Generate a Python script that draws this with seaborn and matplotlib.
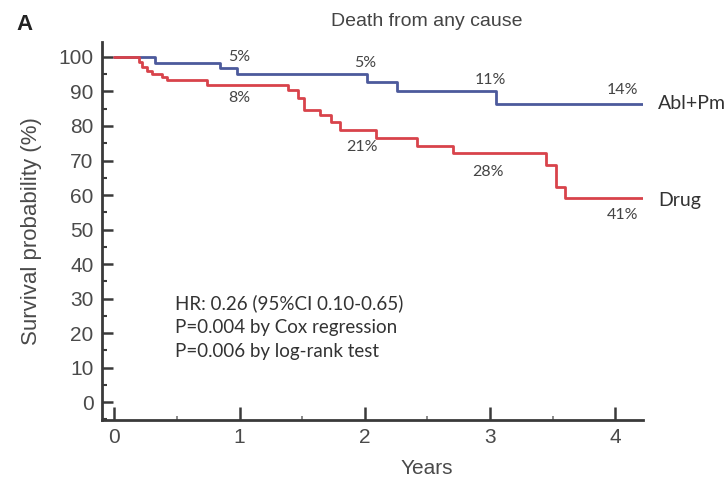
import numpy as np
import pandas as pd
import matplotlib
matplotlib.use("Agg")
import matplotlib.pyplot as plt
from matplotlib.ticker import MultipleLocator
import seaborn as sns

# Kaplan-Meier step curves (years, survival %)
abl_time = [0, 0.32, 0.84, 0.98, 2.02, 2.26, 3.05, 4.22]
abl_surv = [100, 98.2, 96.8, 95.1, 92.7, 90.0, 86.4, 86.4]

drug_time = [0, 0.20, 0.22, 0.26, 0.30, 0.38, 0.42, 0.74, 1.39, 1.47, 1.51,
             1.64, 1.73, 1.80, 2.09, 2.42, 2.70, 3.45, 3.53, 3.60, 4.22]
drug_surv = [100, 98.6, 97.2, 95.8, 95.0, 94.3, 93.3, 91.9, 90.4, 88.1, 84.6,
             83.2, 81.3, 78.8, 76.4, 74.2, 72.1, 68.7, 62.4, 59.0, 59.0]

groups = ["Abl+Pm", "Drug"]
colors = {"Abl+Pm": "#4c5a9c", "Drug": "#d8434b"}

# Cumulative mortality annotations at yearly marks
abl_pct_x = [1, 2, 3, 4.06]
abl_pct_y = [100, 98.3, 93.3, 90.4]
abl_pct = ["5%", "5%", "11%", "14%"]
drug_pct_x = [1, 1.98, 2.98, 4.06]
drug_pct_y = [88, 73.9, 66.7, 54.2]
drug_pct = ["8%", "21%", "28%", "41%"]

stats_lines = ["HR: 0.26 (95%CI 0.10-0.65)",
               "P=0.004 by Cox regression",
               "P=0.006 by log-rank test"]

df = pd.concat([
    pd.DataFrame({"Years": abl_time, "Survival": abl_surv, "Group": groups[0]}),
    pd.DataFrame({"Years": drug_time, "Survival": drug_surv, "Group": groups[1]}),
])

sns.set_style("white")
plt.rcParams["font.family"] = ["Liberation Sans", "DejaVu Sans"]

fig = plt.figure(figsize=(7.28, 4.84), dpi=100)
ax = fig.add_axes([0.140, 0.132, 0.743, 0.781])

sns.lineplot(data=df, x="Years", y="Survival", hue="Group", palette=colors,
             drawstyle="steps-post", linewidth=2.0, legend=False, ax=ax,
             estimator=None, sort=False)

ax.set_xlim(-0.1, 4.22)
ax.set_ylim(-5.2, 104.3)
ax.xaxis.set_major_locator(MultipleLocator(1))
ax.xaxis.set_minor_locator(MultipleLocator(0.5))
ax.yaxis.set_minor_locator(MultipleLocator(5))
ax.set_yticks(np.arange(0, 101, 10))

for side in ["top", "right"]:
    ax.spines[side].set_visible(False)
axis_color = "#3a3a3a"
for side in ["left", "bottom"]:
    ax.spines[side].set_color(axis_color)
    ax.spines[side].set_linewidth(2.0)

label_color = "#4a4a4a"
ax.tick_params(axis="y", which="major", direction="in", length=8, width=1.8,
               color=axis_color, labelsize=15, labelcolor=label_color, pad=6,
               left=True)
ax.tick_params(axis="y", which="minor", direction="in", length=3.6, width=1.5,
               color=axis_color, left=True)
ax.tick_params(axis="x", which="major", direction="in", length=9.5, width=1.8,
               color=axis_color, labelsize=15, labelcolor=label_color, pad=6,
               bottom=True)
ax.tick_params(axis="x", which="minor", direction="in", length=3, width=1.2,
               color="#777777", bottom=True)

ax.set_xlabel("Years", fontsize=15, color=label_color, va="center")
ax.xaxis.set_label_coords((427 - 102) / 541, -(468 - 420) / 378)
ax.set_ylabel("Survival probability (%)", fontsize=16, color=label_color,
              labelpad=12)

lab_font = ["Lato", "DejaVu Sans"]
for x, y, t in zip(abl_pct_x, abl_pct_y, abl_pct):
    ax.text(x, y, t, ha="center", va="center", fontsize=11.5, color="#444444",
            fontfamily=lab_font)
for x, y, t in zip(drug_pct_x, drug_pct_y, drug_pct):
    ax.text(x, y, t, ha="center", va="center", fontsize=11.5, color="#444444",
            fontfamily=lab_font)

ax.text(4.34, abl_surv[-1], groups[0], ha="left", va="center", fontsize=14,
        color="#333333", fontfamily=lab_font, clip_on=False)
ax.text(4.34, drug_surv[-1] - 0.5, groups[1], ha="left", va="center", fontsize=14,
        color="#333333", fontfamily=lab_font, clip_on=False)

for i, line in enumerate(stats_lines):
    ax.text(0.48, 28.7 - 6.95 * i, line, ha="left", va="center", fontsize=13.5,
            color="#333333", fontfamily=lab_font)

fig.text(427 / 728, 1 - 22 / 484, "Death from any cause", ha="center", va="center",
         fontsize=14, color="#444444")
fig.text(16 / 728, 1 - 25 / 484, "A", ha="left", va="center", fontsize=16,
         fontweight="bold", color="#222222")

fig.savefig("out.png", dpi=100)
